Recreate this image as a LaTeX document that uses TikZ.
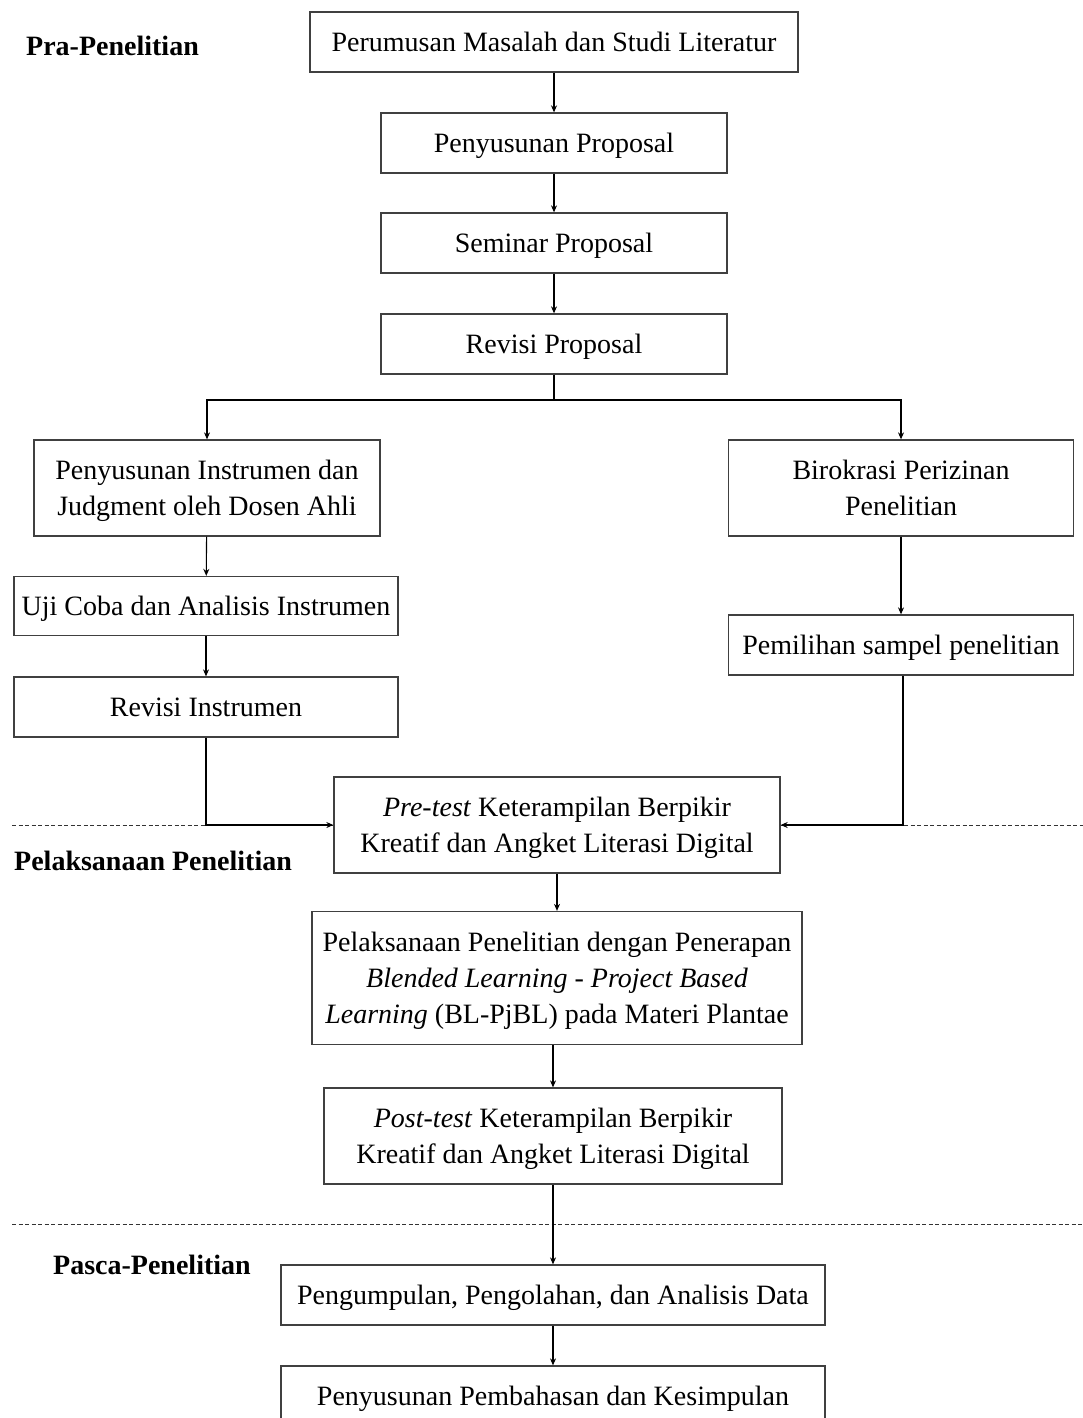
\documentclass[tikz,border=0pt]{standalone}
\usepackage{fontspec}
\setmainfont{Liberation Serif}
\usetikzlibrary{arrows.meta}
\tikzset{
  kotak/.style={draw=black!75, line width=1.3pt, align=center, inner sep=0pt,
    text depth=0pt, font=\fontsize{28}{36}\selectfont},
  panah/.style={line width=1.1pt, -{Stealth[length=7pt,width=6pt]}},
  garis/.style={line width=1.1pt},
  putus/.style={line width=1pt, dash pattern=on 4pt off 2.5pt, black!80},
  tahap/.style={font=\fontsize{28}{30}\selectfont\bfseries, anchor=west, inner sep=0pt}
}
\begin{document}
\begin{tikzpicture}[x=1pt,y=-1pt]
			%%%%% START %%%%%
			\useasboundingbox (0,0) rectangle (1083,1418);
			\clip (0,0) rectangle (1083,1418);
			
			\node[tahap] (pra) at (26, 46) {Pra-Penelitian};
			\node[tahap] (pelaksanaan) at (14, 861) {Pelaksanaan Penelitian};
			\node[tahap] (pasca) at (53, 1265) {Pasca-Penelitian};
			
			\node[kotak, minimum width=488, minimum height=60] (rumusan) at (554, 42) {Perumusan Masalah dan Studi Literatur};
			\node[kotak, minimum width=346, minimum height=60] (susunprop) at (554, 143) {Penyusunan Proposal};
			\node[kotak, minimum width=346, minimum height=60] (seminar) at (554, 243) {Seminar Proposal};
			\node[kotak, minimum width=346, minimum height=60] (revprop) at (554, 344) {Revisi Proposal};
			
			\node[kotak, minimum width=346, minimum height=96] (instrumen) at (207, 488) {Penyusunan Instrumen dan\\Judgment oleh Dosen Ahli};
			\node[kotak, minimum width=345, minimum height=96] (birokrasi) at (901, 488) {Birokrasi Perizinan\\Penelitian};
			\node[kotak, minimum width=384, minimum height=59] (ujicoba) at (206, 606) {Uji Coba dan Analisis Instrumen};
			\node[kotak, minimum width=384, minimum height=60] (revins) at (206, 707) {Revisi Instrumen};
			\node[kotak, minimum width=345, minimum height=60] (sampel) at (901, 645) {Pemilihan sampel penelitian};
			
			\node[kotak, minimum width=446, minimum height=96] (pretest) at (557, 825) {\textit{Pre-test} Keterampilan Berpikir\\Kreatif dan Angket Literasi Digital};
			\node[kotak, minimum width=490, minimum height=133] (terapan) at (557, 978) {Pelaksanaan Penelitian dengan Penerapan\\\textit{Blended Learning - Project Based}\\\textit{Learning} (BL-PjBL) pada Materi Plantae};
			\node[kotak, minimum width=458, minimum height=96] (posttest) at (553, 1136) {\textit{Post-test} Keterampilan Berpikir\\Kreatif dan Angket Literasi Digital};
			
			\node[kotak, minimum width=544, minimum height=60] (olahdata) at (553, 1295) {Pengumpulan, Pengolahan, dan Analisis Data};
			\node[kotak, minimum width=544, minimum height=60] (simpulan) at (553, 1396) {Penyusunan Pembahasan dan Kesimpulan};
			
			\draw[panah] (rumusan) -- (susunprop);
			\draw[panah] (susunprop) -- (seminar);
			\draw[panah] (seminar) -- (revprop);
			
			\coordinate (cabang) at (554, 400);
			\draw[garis] (revprop) -- (cabang);
			\draw[panah] (cabang) -| (instrumen);
			\draw[panah] (cabang) -| (birokrasi);
			
			\draw[panah] (instrumen) -- (ujicoba);
			\draw[panah] (ujicoba) -- (revins);
			\draw[panah] (birokrasi) -- (sampel);
			
			\draw[putus] (12, 825) -- (pretest.west);
			\draw[putus] (pretest.east) -- (1083, 825);
			\draw[panah] (revins.south) |- (pretest.west);
			\draw[panah] ([xshift=2pt]sampel.south) |- (pretest.east);
			
			\draw[panah] (pretest) -- (terapan);
			\draw[panah] ([xshift=-4pt]terapan.south) -- ([xshift=0pt]posttest.north);
			
			\draw[putus] (12, 1224) -- (1083, 1224);
			\draw[panah] (posttest) -- (olahdata);
			\draw[panah] (olahdata) -- (simpulan);
			%%%%% END %%%%%
\end{tikzpicture}
\end{document}
